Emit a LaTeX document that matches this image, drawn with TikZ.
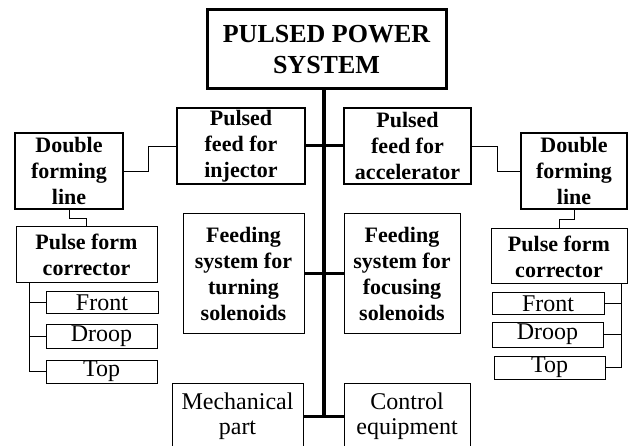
\documentclass[tikz,border=0pt]{standalone}
\usepackage{fontspec}
\setmainfont{Liberation Serif}
\usetikzlibrary{calc}
\begin{document}
\begin{tikzpicture}[x=1pt,y=-1pt,
  bx/.style={draw, inner sep=0pt, align=center},
  topfont/.style={font=\fontsize{26}{31}\selectfont\bfseries},
  bfont/.style={font=\fontsize{22}{26}\selectfont\bfseries},
  rfont/.style={font=\fontsize{24}{25}\selectfont},
  conn/.style={line width=0.9pt},
  thickconn/.style={line width=3pt},
  trunkline/.style={line width=4.5pt},
  ]
\useasboundingbox (0,0) rectangle (629,446);
\clip (0,0) rectangle (629,446);

\node[bx, topfont, line width=3pt, minimum width=239, minimum height=79] (top) at (326.5,49.5) {PULSED POWER\\SYSTEM};
\node[bx, bfont, line width=2pt, minimum width=128, minimum height=76] (inj) at (241,146) {Pulsed\\feed for\\injector};
\node[bx, bfont, line width=2pt, minimum width=127, minimum height=76] (acc) at (407.5,146) {Pulsed\\feed for\\accelerator};
\node[bx, bfont, line width=2.5pt, minimum width=108, minimum height=76] (dflL) at (69,171) {Double\\forming\\line};
\node[bx, bfont, line width=2.5pt, minimum width=106, minimum height=76] (dflR) at (574,171) {Double\\forming\\line};
\node[bx, bfont, line width=1pt, minimum width=141, minimum height=56] (pfcL) at (86.5,255) {Pulse form\\corrector};
\node[bx, bfont, line width=1pt, minimum width=136, minimum height=55] (pfcR) at (559,256.5) {Pulse form\\corrector};
\node[bx, bfont, line width=1pt, minimum width=121, minimum height=119] (feedL) at (243.5,273.5) {Feeding\\system for\\turning\\solenoids};
\node[bx, bfont, line width=1pt, minimum width=116, minimum height=119] (feedR) at (402,273.5) {Feeding\\system for\\focusing\\solenoids};
\node[bx, rfont, line width=1pt, minimum width=131, minimum height=66] (mech) at (237.5,416) {Mechanical\\part};
\node[bx, rfont, line width=1pt, minimum width=126, minimum height=66] (ctrl) at (407,416) {Control\\equipment};
\node[bx, rfont, line width=1pt, minimum width=112, minimum height=21] (frontL) at (102,302.5) {Front};
\node[bx, rfont, line width=1pt, minimum width=111, minimum height=24] (droopL) at (101.5,336) {Droop};
\node[bx, rfont, line width=1pt, minimum width=111, minimum height=23] (topL) at (101.5,371.5) {Top};
\node[bx, rfont, line width=1pt, minimum width=112, minimum height=21] (frontR) at (548,303.5) {Front};
\node[bx, rfont, line width=1pt, minimum width=111, minimum height=25] (droopR) at (547.5,334.5) {Droop};
\node[bx, rfont, line width=1pt, minimum width=111, minimum height=23] (topR) at (549.5,367.5) {Top};

% trunk
\coordinate (trunkend) at (324,418);
\draw[trunkline] (trunkend |- top.south) -- (trunkend);
\draw[thickconn] (inj.east) -- (acc.west);
\draw[thickconn] (feedL.east) -- (feedR.west);
\draw[thickconn] (mech.east) -- (ctrl.west);

% side connectors
\draw[conn] (inj.west) -- ++(-28,0) |- (dflL.east);
\draw[conn] (acc.east) -- ++(25,0) |- (dflR.west);
\draw[conn] (dflL.south) -- ++(0,8) -| (pfcL.north);
\draw[conn] (dflR.south) -- ++(0,9) -| (pfcR.north);

% trees
\coordinate (tl) at ($(pfcL.south west)+(14,0)$);
\draw[conn] (tl) |- (frontL.west);
\draw[conn] (tl) |- (droopL.west);
\draw[conn] (tl) |- (topL.west);
\coordinate (tr) at ($(pfcR.south east)+(-6,0)$);
\draw[conn] (tr) |- (frontR.east);
\draw[conn] (tr) |- (droopR.east);
\draw[conn] (tr) |- (topR.east);
\end{tikzpicture}
\end{document}
